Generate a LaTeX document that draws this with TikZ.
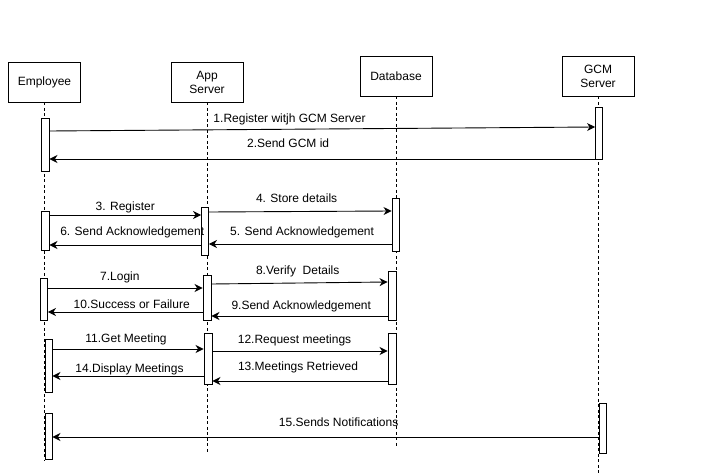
\documentclass[tikz,border=0pt]{standalone}
\usepackage{fontspec}
\setmainfont{Liberation Sans}
\usetikzlibrary{arrows.meta}
\begin{document}
\begin{tikzpicture}[x=1pt, y=-1pt,
    every node/.style={font=\fontsize{12}{14}\selectfont},
    head/.style={draw, line width=0.9pt, minimum width=72pt, minimum height=40pt, align=center, inner sep=0pt},
    act/.style={draw, fill=white, line width=0.9pt, minimum width=7pt, inner sep=0pt},
    life/.style={line width=0.8pt, dash pattern=on 3pt off 2.5pt},
    msg/.style={draw, line width=0.9pt, -{Stealth[length=8pt, width=8pt, inset=2.5pt]}},
    lbl/.style={inner sep=1pt}]
    \useasboundingbox (0,0) rectangle (717,476);
    \node[head] (emp) at (44.5,82) {Employee};
    \node[head] (app) at (207,82) {App\\Server};
    \node[head] (db) at (396,76) {Database};
    \node[head] (gcm) at (598,76) {GCM\\Server};
    \coordinate (empend) at (44.5,460);
    \coordinate (append) at (207,453);
    \coordinate (dbend) at (396,447);
    \coordinate (gcmend) at (598,476);
    \draw[life] (emp) -- (empend);
    \draw[life] (app) -- (append);
    \draw[life] (db) -- (dbend);
    \draw[life] (gcm) -- (gcmend);
    \node[act, minimum width=8pt, minimum height=53pt] (e1) at (45,144.5) {};
    \node[act, minimum height=52pt] (g1) at (599,133) {};
    \node[act, minimum width=8pt, minimum height=39pt] (e2) at (45,230.5) {};
    \node[act, minimum height=48pt] (a2) at (205,231) {};
    \node[act, minimum height=53pt] (d2) at (395.5,224.5) {};
    \node[act, minimum height=42pt] (e3) at (44,299) {};
    \node[act, minimum width=8pt, minimum height=45pt] (a3) at (207,297.5) {};
    \node[act, minimum width=8pt, minimum height=49pt] (d3) at (392,295.5) {};
    \node[act, minimum height=53pt] (e4) at (48.5,365.5) {};
    \node[act, minimum width=8pt, minimum height=51pt] (a4) at (208,358.5) {};
    \node[act, minimum width=8pt, minimum height=51pt] (d4) at (392,358.5) {};
    \node[act, minimum height=46pt] (e5) at (48.5,436) {};
    \node[act, minimum height=50pt] (g5) at (602.5,428) {};
    \path (e1.east |- 0,131) edge[msg] node[lbl, pos=.44, yshift=10pt] {1.Register witjh GCM Server} (g1.west |- 0,127);
    \path (g1.west |- 0,159) edge[msg] node[lbl, pos=.5625, yshift=16pt] {2.Send GCM id} (e1.east |- 0,159);
    \path (e2.east |- 0,215) edge[msg] node[lbl, pos=.5, yshift=8pt] {3. Register} (a2.west |- 0,215);
    \path (a2.east |- 0,212) edge[msg] node[lbl, pos=.48, yshift=13pt] {4. Store details} (d2.west |- 0,211);
    \path (d2.west |- 0,244) edge[msg] node[lbl, pos=.49, yshift=12pt] {5. Send Acknowledgement} (a2.east |- 0,244);
    \path (a2.west |- 0,245) edge[msg] node[lbl, pos=.454, yshift=13pt] {6. Send Acknowledgement} (e2.east |- 0,245);
    \path (e3.east |- 0,288) edge[msg] node[lbl, pos=.465, yshift=11pt] {7.Login} (a3.west |- 0,288);
    \path (a3.east |- 0,284) edge[msg] node[lbl, pos=.49, yshift=12pt] {8.Verify\ \ Details} (d3.west |- 0,282);
    \path (d3.west |- 0,316) edge[msg] node[lbl, pos=.49, yshift=10pt] {9.Send Acknowledgement} (a3.east |- 0,316);
    \path (a3.west |- 0,312) edge[msg] node[lbl, pos=.458, yshift=8pt] {10.Success or Failure} (e3.east |- 0,312);
    \path (e4.east |- 0,349) edge[msg] node[lbl, pos=.487, yshift=10pt] {11.Get Meeting} (a4.west |- 0,349);
    \path (a4.east |- 0,351) edge[msg] node[lbl, pos=.469, yshift=11pt] {12.Request meetings} (d4.west |- 0,351);
    \path (d4.west |- 0,381) edge[msg] node[lbl, pos=.511, yshift=14pt] {13.Meetings Retrieved} (a4.east |- 0,381);
    \path (a4.west |- 0,376) edge[msg] node[lbl, pos=.49, yshift=7pt] {14.Display Meetings} (e4.east |- 0,376);
    \path (g5.west |- 0,437) edge[msg] node[lbl, pos=.476, yshift=15pt] {15.Sends Notifications} (e5.east |- 0,437);
\end{tikzpicture}
\end{document}
